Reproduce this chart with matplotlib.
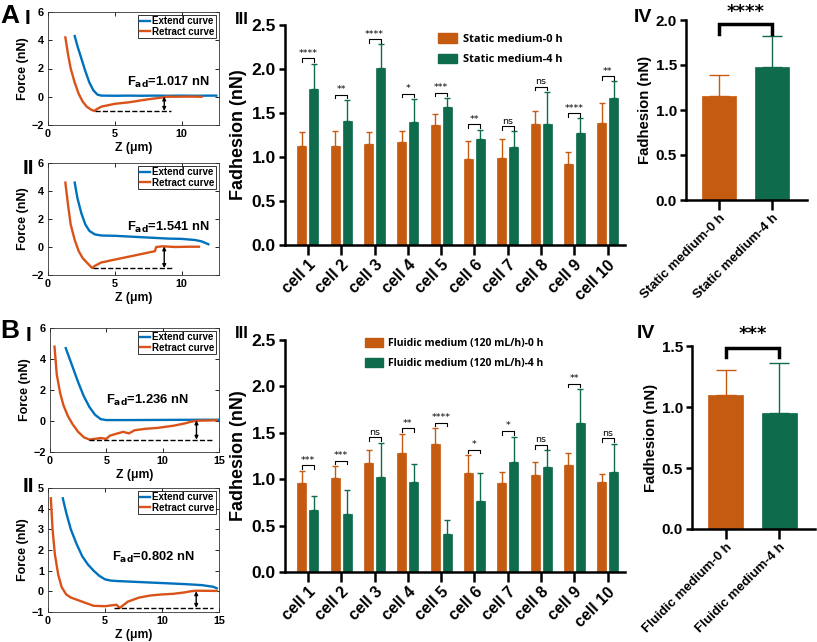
import matplotlib
matplotlib.use("Agg")
import matplotlib.pyplot as plt
import numpy as np
from matplotlib.patches import Patch

plt.rcParams['font.family'] = ['Liberation Sans', 'DejaVu Sans']
plt.rcParams['font.weight'] = 'bold'
plt.rcParams['axes.labelweight'] = 'bold'

# ---------------- data ----------------
cells = ['cell 1', 'cell 2', 'cell 3', 'cell 4', 'cell 5',
         'cell 6', 'cell 7', 'cell 8', 'cell 9', 'cell 10']

static_0h = [1.12, 1.12, 1.15, 1.17, 1.36, 0.98, 0.99, 1.38, 0.92, 1.39]
static_0h_err = [0.16, 0.18, 0.13, 0.13, 0.13, 0.20, 0.21, 0.14, 0.14, 0.22]
static_4h = [1.77, 1.41, 2.01, 1.40, 1.57, 1.20, 1.11, 1.38, 1.27, 1.67]
static_4h_err = [0.29, 0.24, 0.27, 0.26, 0.10, 0.11, 0.18, 0.36, 0.17, 0.19]
static_sig = ['****', '**', '****', '*', '***', '**', 'ns', 'ns', '****', '**']

fluidic_0h = [0.96, 1.01, 1.17, 1.28, 1.38, 1.07, 0.96, 1.05, 1.15, 0.97]
fluidic_0h_err = [0.13, 0.13, 0.15, 0.21, 0.17, 0.19, 0.12, 0.14, 0.13, 0.09]
fluidic_4h = [0.67, 0.63, 1.02, 0.97, 0.41, 0.77, 1.19, 1.13, 1.61, 1.08]
fluidic_4h_err = [0.15, 0.25, 0.37, 0.19, 0.15, 0.30, 0.27, 0.18, 0.36, 0.30]
fluidic_sig = ['***', '***', 'ns', '**', '****', '*', '*', 'ns', '**', 'ns']

static_groups = ['Static medium-0 h', 'Static medium-4 h']
static_mean = [1.16, 1.48]
static_mean_err = [0.23, 0.34]
static_mean_sig = '****'

fluidic_groups = ['Fluidic medium-0 h', 'Fluidic medium-4 h']
fluidic_legend = ['Fluidic medium (120 mL/h)-0 h', 'Fluidic medium (120 mL/h)-4 h']
fluidic_mean = [1.10, 0.95]
fluidic_mean_err = [0.20, 0.41]
fluidic_mean_sig = '***'

# force curves (Z in um, F in nN)
a1_ext_z = [2.0, 2.2, 2.5, 2.8, 3.1, 3.4, 3.7, 4.0, 5.0, 6.0, 7.0, 8.0, 9.0, 10.0, 11.0, 12.0, 12.6]
a1_ext_f = [4.3, 3.6, 2.7, 1.8, 1.0, 0.45, 0.15, 0.08, 0.07, 0.08, 0.07, 0.08, 0.07, 0.08, 0.07, 0.08, 0.08]
a1_ret_z = [1.3, 1.5, 1.7, 2.0, 2.3, 2.6, 2.9, 3.2, 3.45, 3.7, 4.0, 4.5, 5.0, 5.5, 6.0, 6.5, 7.0, 7.5, 8.0, 8.5, 8.8, 9.5, 10.5, 11.5]
a1_ret_f = [4.2, 3.0, 2.0, 1.0, 0.2, -0.35, -0.7, -0.9, -1.0, -0.85, -0.7, -0.6, -0.5, -0.45, -0.4, -0.33, -0.25, -0.18, -0.12, -0.06, 0.0, 0.0, 0.01, 0.0]
a1_fad = 1.017

a2_ext_z = [2.0, 2.2, 2.5, 2.8, 3.1, 3.5, 4.0, 5.0, 6.0, 7.0, 8.0, 9.0, 10.0, 11.0, 11.5, 12.0]
a2_ext_f = [4.6, 3.5, 2.4, 1.6, 1.15, 0.9, 0.82, 0.8, 0.75, 0.7, 0.65, 0.6, 0.58, 0.5, 0.4, 0.2]
a2_ret_z = [1.3, 1.5, 1.7, 2.0, 2.3, 2.6, 3.0, 3.3, 3.5, 4.0, 4.3, 4.5, 5.0, 5.5, 6.0, 6.5, 7.0, 7.5, 8.0, 8.1, 8.6, 9.5, 10.5, 11.3]
a2_ret_f = [4.6, 3.0, 1.6, 0.5, -0.3, -0.8, -1.2, -1.5, -1.35, -1.1, -1.05, -1.0, -0.9, -0.8, -0.7, -0.6, -0.5, -0.4, -0.3, 0.0, 0.05, 0.0, 0.02, 0.02]
a2_fad = 1.541

b1_ext_z = [1.4, 2.0, 2.5, 3.0, 3.5, 4.0, 4.5, 5.0, 7.0, 10.0, 13.0, 15.0]
b1_ext_f = [4.7, 3.5, 2.5, 1.6, 0.9, 0.4, 0.12, 0.06, 0.06, 0.07, 0.08, 0.08]
b1_ret_z = [0.4, 0.6, 0.9, 1.2, 1.6, 2.0, 2.5, 3.0, 3.5, 4.0, 4.5, 5.0, 5.3, 6.0, 6.5, 7.0, 7.5, 8.5, 9.5, 10.0, 11.0, 12.0, 12.5, 13.0, 14.0, 14.8]
b1_ret_f = [4.8, 3.0, 1.8, 1.0, 0.3, -0.2, -0.7, -1.05, -1.2, -1.15, -1.1, -1.15, -0.95, -0.8, -0.7, -0.8, -0.6, -0.5, -0.45, -0.4, -0.3, -0.15, -0.05, 0.02, 0.03, 0.05]
b1_fad = 1.236

b2_ext_z = [1.3, 1.6, 2.0, 2.5, 3.0, 3.5, 4.0, 4.5, 5.0, 5.5, 6.0, 8.0, 10.0, 12.0, 13.5, 14.5, 14.8]
b2_ext_f = [4.5, 3.8, 3.0, 2.3, 1.7, 1.3, 1.0, 0.75, 0.58, 0.52, 0.5, 0.45, 0.4, 0.35, 0.3, 0.22, 0.15]
b2_ret_z = [0.25, 0.4, 0.6, 0.9, 1.2, 1.6, 2.0, 3.0, 4.0, 5.0, 6.0, 6.3, 7.0, 8.0, 9.0, 10.0, 11.0, 12.0, 12.5, 13.0, 14.8]
b2_ret_f = [4.5, 3.0, 1.8, 0.8, 0.2, -0.15, -0.3, -0.5, -0.7, -0.72, -0.65, -0.8, -0.5, -0.3, -0.2, -0.15, -0.12, -0.05, 0.0, 0.03, 0.02]
b2_fad = 0.802

# ---------------- styling ----------------
ORANGE = '#C55A11'
GREEN = '#0E6B4B'
BLUE = '#0072BD'
RED = '#D95319'

W, H = 817, 642
fig = plt.figure(figsize=(W / 100, H / 100), dpi=100)


def ax_px(l, t, r, b):
    return fig.add_axes([l / W, 1 - b / H, (r - l) / W, (b - t) / H])


def fig_text(x, y, s, size, **kw):
    fig.text(x / W, 1 - y / H, s, fontsize=size, fontweight='bold', va='center', **kw)


def curve_panel(box, ez, ef, rz, rf, fad, xlim, ylim, yticks, xticks, fad_xy, dash_x, arrow_x):
    ax = ax_px(*box)
    ax.plot(ez, ef, color=BLUE, lw=1.7, label='Extend curve')
    ax.plot(rz, rf, color=RED, lw=1.7, label='Retract curve')
    ax.set_xlim(*xlim)
    ax.set_ylim(*ylim)
    ax.set_yticks(yticks)
    ax.set_xticks(xticks)
    base = min(rf)
    ax.plot(dash_x, [base, base], color='black', ls='--', lw=1.0)
    ax.annotate('', xy=(arrow_x, base), xytext=(arrow_x, base + fad),
                arrowprops=dict(arrowstyle='<|-|>', lw=1.0, color='black',
                                mutation_scale=5, shrinkA=0, shrinkB=0))
    ax.text(fad_xy[0], fad_xy[1], 'F$_{\\mathbf{ad}}$=%.3f nN' % fad, fontsize=9.3,
            fontweight='bold', va='center', ha='left')
    ax.tick_params(direction='in', top=True, right=True, labelsize=7.8, length=3,
                   width=0.6, pad=3)
    for lab in ax.get_xticklabels() + ax.get_yticklabels():
        lab.set_fontweight('bold')
    for s in ax.spines.values():
        s.set_linewidth(0.6)
        s.set_color('#333333')
    ax.set_xlabel('Z (μm)', fontsize=8.8, labelpad=2)
    ax.set_ylabel('Force (nN)', fontsize=9, labelpad=2)
    leg = ax.legend(loc='upper right', frameon=True, fancybox=False,
                    edgecolor='black', handlelength=1.1, handletextpad=0.2,
                    borderpad=0.15, labelspacing=0.05, borderaxespad=0.3,
                    prop={'weight': 'bold', 'size': 7})
    leg.get_frame().set_linewidth(0.7)
    return ax


curve_panel((48, 12, 219, 125), a1_ext_z, a1_ext_f, a1_ret_z, a1_ret_f, a1_fad,
            (0, 12.8), (-2, 6), [-2, 0, 2, 4, 6], [0, 5, 10], (5.9, 1.0), [3.5, 9.2], 8.7)
curve_panel((48, 163, 219, 275), a2_ext_z, a2_ext_f, a2_ret_z, a2_ret_f, a2_fad,
            (0, 12.8), (-2, 6), [-2, 0, 2, 4, 6], [0, 5, 10], (5.9, 1.43), [3.4, 9.3], 8.7)
curve_panel((50, 328, 219, 452), b1_ext_z, b1_ext_f, b1_ret_z, b1_ret_f, b1_fad,
            (0, 15), (-2, 6), [-2, 0, 2, 4, 6], [0, 5, 10, 15], (5.0, 1.35), [3.5, 14.5], 13.0)
curve_panel((48, 488, 219, 612), b2_ext_z, b2_ext_f, b2_ret_z, b2_ret_f, b2_fad,
            (0, 15), (-1, 5), [-1, 0, 1, 2, 3, 4, 5], [0, 5, 10, 15], (5.6, 1.62), [5.8, 14.5], 13.0)


def prism_axes(ax, tick_size, xtick_size):
    for s in ['top', 'right']:
        ax.spines[s].set_visible(False)
    for s in ['left', 'bottom']:
        ax.spines[s].set_linewidth(1.8)
    ax.tick_params(axis='y', direction='out', width=1.8, length=4.5, labelsize=tick_size, pad=2)
    ax.tick_params(axis='x', direction='out', width=1.8, length=7, labelsize=xtick_size, pad=2)
    for lab in ax.get_xticklabels() + ax.get_yticklabels():
        lab.set_fontweight('bold')


def bar_panel(box, v0, e0, v1, e1, sig, legend_labels, legend_pos, legend_size):
    ax = ax_px(*box)
    x = np.arange(len(cells))
    off, w = 0.18, 0.27
    ax.bar(x - off, v0, width=w, color=ORANGE, edgecolor=ORANGE, lw=0.5)
    ax.bar(x + off, v1, width=w, color=GREEN, edgecolor=GREEN, lw=0.5)
    ax.errorbar(x - off, v0, yerr=[np.zeros(len(v0)), e0], fmt='none', ecolor=ORANGE,
                elinewidth=1.0, capsize=2.5, capthick=1.0)
    ax.errorbar(x + off, v1, yerr=[np.zeros(len(v1)), e1], fmt='none', ecolor=GREEN,
                elinewidth=1.0, capsize=2.5, capthick=1.0)
    for i in range(len(cells)):
        top = max(v0[i] + e0[i], v1[i] + e1[i]) + 0.06
        ax.plot([i - off, i - off, i + off, i + off], [top - 0.04, top, top, top - 0.04],
                color='black', lw=0.8, clip_on=False)
        ax.text(i, top + 0.005, sig[i], ha='center', va='bottom', fontsize=6.8,
                fontweight='normal', family='DejaVu Sans')
    ax.set_xlim(-0.69, 9.52)
    ax.set_ylim(0, 2.5)
    ax.set_yticks([0, 0.5, 1.0, 1.5, 2.0, 2.5])
    ax.set_yticklabels(['0.0', '0.5', '1.0', '1.5', '2.0', '2.5'])
    ax.set_xticks(x)
    ax.set_xticklabels(cells, rotation=45, ha='right', rotation_mode='anchor')
    ax.set_ylabel('Fadhesion (nN)', fontsize=13, labelpad=3)
    prism_axes(ax, 12.5, 11.5)
    ax.legend(handles=[Patch(color=ORANGE), Patch(color=GREEN)], labels=legend_labels,
              loc='upper left', bbox_to_anchor=(legend_pos[0] / W, 1 - legend_pos[1] / H),
              bbox_transform=fig.transFigure, frameon=False, borderpad=0,
              handlelength=1.7, handleheight=0.9, handletextpad=0.5, labelspacing=0.85,
              prop={'family': 'Open Sans', 'weight': 'bold', 'size': legend_size})
    return ax


bar_panel((285, 25, 625, 245), static_0h, static_0h_err, static_4h, static_4h_err,
          static_sig, static_groups, (433, 28), 7.9)
bar_panel((285, 340, 625, 572), fluidic_0h, fluidic_0h_err, fluidic_4h, fluidic_4h_err,
          fluidic_sig, fluidic_legend, (360, 333), 7.5)


def mean_panel(box, groups, vals, errs, sig, ylim, yticks, ylabels, brk, brk_tick, sig_y):
    ax = ax_px(*box)
    x = np.arange(len(groups))
    cols = [ORANGE, GREEN]
    ax.bar(x, vals, width=0.65, color=cols, edgecolor=cols, lw=0.5)
    for i in range(len(groups)):
        ax.errorbar(x[i], vals[i], yerr=[[0], [errs[i]]], fmt='none', ecolor=cols[i],
                    elinewidth=1.0, capsize=7, capthick=1.0)
    ax.plot([0, 0, 1, 1], [brk_tick, brk, brk, brk_tick], color='black', lw=2.5,
            clip_on=False, solid_joinstyle='miter')
    ax.text(0.5, sig_y, sig, ha='center', va='center', fontsize=13, fontweight='bold',
            family='DejaVu Sans')
    ax.set_xlim(-0.63, 1.67)
    ax.set_ylim(*ylim)
    ax.set_yticks(yticks)
    ax.set_yticklabels(ylabels)
    ax.set_xticks(x)
    ax.set_xticklabels(groups, rotation=45, ha='right', rotation_mode='anchor')
    ax.set_ylabel('Fadhesion (nN)', fontsize=10.7, labelpad=3)
    prism_axes(ax, 11, 9.5)
    return ax


mean_panel((686, 20, 807, 200), static_groups, static_mean, static_mean_err, static_mean_sig,
           (0, 2.0), [0, 0.5, 1.0, 1.5, 2.0], ['0.0', '0.5', '1.0', '1.5', '2.0'],
           1.955, 1.85, 2.09)
mean_panel((692, 346, 815, 529), fluidic_groups, fluidic_mean, fluidic_mean_err, fluidic_mean_sig,
           (0, 1.5), [0, 0.5, 1.0, 1.5], ['0.0', '0.5', '1.0', '1.5'],
           1.48, 1.41, 1.60)

# panel labels
fig_text(0, 16, 'A', 19)
fig_text(25, 18, 'I', 15)
fig_text(23, 168, 'II', 15)
fig_text(0, 331, 'B', 19)
fig_text(26, 336, 'I', 15)
fig_text(23, 487, 'II', 15)
fig_text(235, 19, 'III', 12)
fig_text(235, 334, 'III', 12)
fig_text(634, 17, 'IV', 14)
fig_text(637, 334, 'IV', 14)

fig.savefig('out.png', dpi=100)
